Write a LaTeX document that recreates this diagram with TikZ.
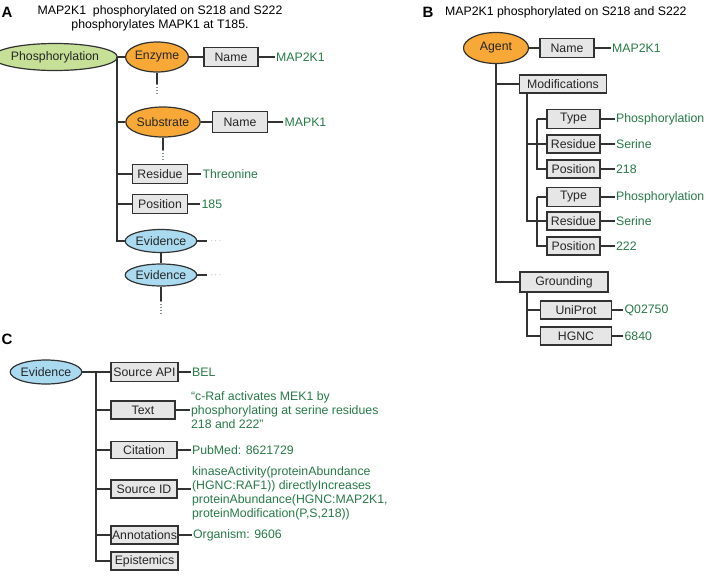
\documentclass[tikz,border=0pt]{standalone}
\usepackage{fontspec}
\setmainfont{Liberation Sans}
\usetikzlibrary{shapes,positioning}

\definecolor{entOrange}{RGB}{247,168,54}
\definecolor{phosGreen}{RGB}{198,224,152}
\definecolor{evBlue}{RGB}{170,218,240}
\definecolor{boxGray}{RGB}{230,230,230}
\definecolor{valGreen}{RGB}{38,122,70}
\definecolor{lineGray}{RGB}{50,50,50}
\definecolor{dotGray}{RGB}{130,150,140}

\tikzstyle{field} = [rectangle, draw=lineGray, line width=1.8pt, fill=boxGray,
inner sep=0pt, minimum height=19pt, text=black!85]
\tikzstyle{ent} = [ellipse, draw=lineGray, line width=1.2pt, inner sep=0pt, text=black!85]
\tikzstyle{val} = [text=valGreen, inner sep=1pt, align=left]
\tikzstyle{more} = [text=gray, inner sep=3pt, font=\fontsize{9}{9}\selectfont]
\tikzstyle{panel} = [font=\fontsize{15}{16}\selectfont\bfseries]
\tikzstyle{line} = [draw=lineGray, line width=1.8pt]
\tikzstyle{dotLine} = [draw=dotGray, dotted, line width=1.2pt]

\begin{document}
\begin{tikzpicture}[x=1pt,y=-1pt,font=\fontsize{12.3}{14}\selectfont]

   \useasboundingbox (0,0) rectangle (709,576);

   %% Panel A
   \node[panel] (labA) at (7,12) {A};
   \node[align=center] (titleA) at (160,18.5) {MAP2K1~ phosphorylated on S218 and S222\\phosphorylates MAPK1 at T185.};

   \node[ent, fill=phosGreen, minimum width=105pt, minimum height=27pt] (phos) at (55,57) {Phosphorylation};
   \node[ent, fill=entOrange, minimum width=57pt, minimum height=30pt] (enz) at (157,57) {Enzyme};
   \node[field, minimum width=54pt] (enzName) at (231,57) {Name};
   \node[val, right=16pt of enzName] (enzVal) {MAP2K1};

   \node[ent, fill=entOrange, minimum width=65pt, minimum height=30pt] (sub) at (163,122) {Substrate};
   \node[field, minimum width=55pt, minimum height=21pt] (subName) at (240,122) {Name};
   \node[val, right=15pt of subName] (subVal) {MAPK1};

   \node[field, minimum width=55pt] (res) at (160,174) {Residue};
   \node[val, right=13pt of res] (resVal) {Threonine};
   \node[field, minimum width=55pt] (pos) at (160,204) {Position};
   \node[val, right=12pt of pos] (posVal) {185};

   \node[ent, fill=evBlue, minimum width=63pt, minimum height=23pt] (evA1) at (161,241) {Evidence};
   \node[more, right=10pt of evA1] (evA1More) {$\cdots$};
   \node[ent, fill=evBlue, minimum width=65pt, minimum height=22pt] (evA2) at (161,275) {Evidence};
   \node[more, right=10pt of evA2] (evA2More) {$\cdots$};

   \coordinate (trunkA) at (117,57);
   \coordinate[below=11pt of enz.south] (enzStub);
   \coordinate[below=12pt of enzStub] (enzDots);
   \coordinate[below=12pt of sub.south] (subStub);
   \coordinate[below=12pt of subStub] (subDots);
   \coordinate[below=14pt of evA2.south] (evStub);
   \coordinate[below=13pt of evStub] (evDots);

   % Lines of panel A
   \path[line] (phos) -- (enz);
   \path[line] (trunkA) |- (evA1);
   \path[line] (trunkA |- sub) -- (sub);
   \path[line] (trunkA |- res) -- (res);
   \path[line] (trunkA |- pos) -- (pos);
   \path[line] (enz) -- (enzName);
   \path[line] (enzName) -- (enzVal);
   \path[line] (sub) -- (subName);
   \path[line] (subName) -- (subVal);
   \path[line] (res) -- (resVal);
   \path[line] (pos) -- (posVal);
   \path[line] (evA1) -- (evA2);
   \path[line] (evA1) -- (evA1More);
   \path[line] (evA2) -- (evA2More);

   \path[line] (enz.south) -- (enzStub);
   \path[dotLine] (enzStub) -- (enzDots);
   \path[line] (sub.south) -- (subStub);
   \path[dotLine] (subStub) -- (subDots);
   \path[line] (evA2.south) -- (evStub);
   \path[dotLine] (evStub) -- (evDots);

   %% Panel B
   \node[panel] (labB) at (428,12) {B};
   \node[anchor=west, inner sep=0pt] (titleB) at (445,12) {MAP2K1 phosphorylated on S218 and S222};

   \node[ent, fill=entOrange, minimum width=65pt, minimum height=31pt] (agent) at (496,48) {Agent};
   \node[field, minimum width=54pt] (agName) at (567,48) {Name};
   \node[val, right=16pt of agName] (agVal) {MAP2K1};

   \node[field, minimum width=87pt, minimum height=18pt] (mods) at (563,84) {Modifications};

   % first modification
   \node[field, minimum width=53pt] (typeI) at (573.5,119) {Type};
   \node[field, minimum width=53pt, minimum height=18pt] (resI) at (573.5,144) {Residue};
   \node[field, minimum width=53pt, minimum height=18pt] (posI) at (573.5,169) {Position};
   \node[val, right=14pt of typeI] (typeIVal) {Phosphorylation};
   \node[val, right=14pt of resI] (resIVal) {Serine};
   \node[val, right=14pt of posI] (posIVal) {218};

   % second modification
   \node[field, minimum width=53pt] (typeII) at (573.5,197) {Type};
   \node[field, minimum width=53pt, minimum height=18pt] (resII) at (573.5,221) {Residue};
   \node[field, minimum width=53pt, minimum height=18pt] (posII) at (573.5,246) {Position};
   \node[val, right=14pt of typeII] (typeIIVal) {Phosphorylation};
   \node[val, right=14pt of resII] (resIIVal) {Serine};
   \node[val, right=14pt of posII] (posIIVal) {222};

   \node[field, minimum width=88pt, minimum height=20pt] (ground) at (564,282) {Grounding};
   \node[field, minimum width=71pt, minimum height=18pt] (uniprot) at (576,310) {UniProt};
   \node[field, minimum width=71pt, minimum height=18pt] (hgnc) at (576,336) {HGNC};
   \node[val, right=11pt of uniprot] (uniprotVal) {Q02750};
   \node[val, right=11pt of hgnc] (hgncVal) {6840};

   \coordinate (modsTrunk) at (527,93);
   \coordinate (modTrunk) at (537,119);
   \coordinate (groundTrunk) at (527,292);

   % Lines of panel B
   \path[line] (agent) -- (agName);
   \path[line] (agName) -- (agVal);
   \path[line] (agent.south) |- (ground);
   \path[line] (agent.south |- mods) -- (mods);

   \path[line] (modsTrunk) |- (modTrunk |- resII);
   \path[line] (modsTrunk |- resI) -- (modTrunk |- resI);
   \path[line] (modTrunk) |- (posI);
   \path[line] (modTrunk) -- (typeI);
   \path[line] (modTrunk |- resI) -- (resI);
   \path[line] (modTrunk |- typeII) |- (posII);
   \path[line] (modTrunk |- typeII) -- (typeII);
   \path[line] (modTrunk |- resII) -- (resII);

   \path[line] (typeI) -- (typeIVal);
   \path[line] (resI) -- (resIVal);
   \path[line] (posI) -- (posIVal);
   \path[line] (typeII) -- (typeIIVal);
   \path[line] (resII) -- (resIIVal);
   \path[line] (posII) -- (posIIVal);

   \path[line] (groundTrunk) |- (hgnc);
   \path[line] (groundTrunk |- uniprot) -- (uniprot);
   \path[line] (uniprot) -- (uniprotVal);
   \path[line] (hgnc) -- (hgncVal);

   %% Panel C
   \node[panel] (labC) at (7,339) {C};

   \node[ent, fill=evBlue, minimum width=64pt, minimum height=24pt] (evC) at (46,372) {Evidence};

   \node[field, minimum width=67pt] (srcApi) at (144.5,372) {Source API};
   \node[field, minimum width=64pt, minimum height=18pt] (txt) at (143,410) {Text};
   \node[field, minimum width=66pt, minimum height=17pt] (cite) at (144,450) {Citation};
   \node[field, minimum width=66pt, minimum height=18pt] (srcId) at (144,489) {Source ID};
   \node[field, minimum width=67pt, minimum height=18pt] (annot) at (144.5,535) {Annotations};
   \node[field, minimum width=67pt, minimum height=18pt] (epist) at (144.5,561) {Epistemics};

   \node[val, right=12pt of srcApi] (srcApiVal) {BEL};
   \node[val, right=14pt of txt] (txtVal) {“c-Raf activates MEK1 by\\phosphorylating at serine residues\\218 and 222”};
   \node[val, right=13pt of cite] (citeVal) {PubMed: 8621729};
   \node[val, right=13pt of srcId, yshift=-4pt] (srcIdVal) {kinaseActivity(proteinAbundance\\(HGNC:RAF1)) directlyIncreases\\proteinAbundance(HGNC:MAP2K1,\\proteinModification(P,S,218))};
   \node[val, right=13pt of annot] (annotVal) {Organism: 9606};

   \coordinate (trunkC) at (96,372);

   % Lines of panel C
   \path[line] (evC) -- (srcApi);
   \path[line] (trunkC) |- (epist);
   \path[line] (trunkC |- txt) -- (txt);
   \path[line] (trunkC |- cite) -- (cite);
   \path[line] (trunkC |- srcId) -- (srcId);
   \path[line] (trunkC |- annot) -- (annot);

   \path[line] (srcApi) -- (srcApiVal);
   \path[line] (txt) -- (txt -| txtVal.west);
   \path[line] (cite) -- (citeVal);
   \path[line] (srcId) -- (srcId -| srcIdVal.west);
   \path[line] (annot) -- (annotVal);

\end{tikzpicture}
\end{document}
